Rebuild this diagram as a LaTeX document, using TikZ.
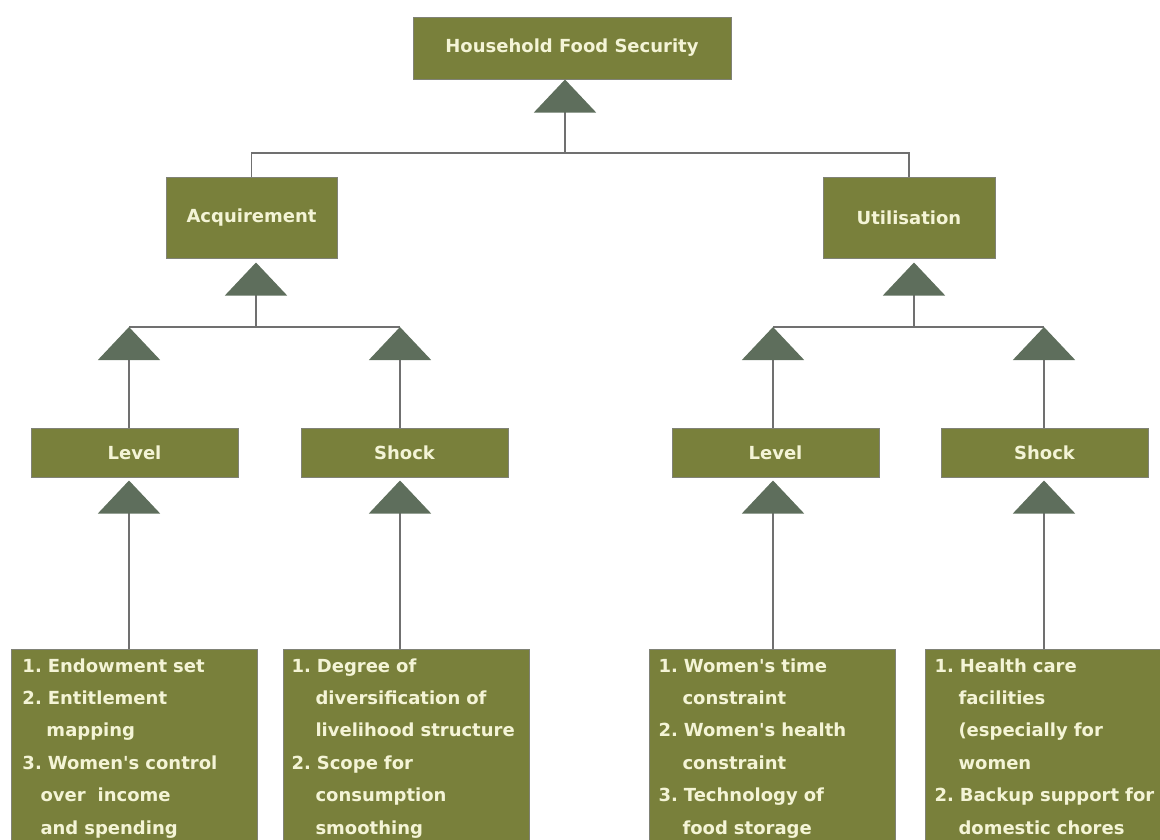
\documentclass[tikz,border=0pt]{standalone}
\usepackage{fontspec}
\setmainfont{DejaVu Sans}[Ligatures=TeXOff]
\usetikzlibrary{arrows.meta}
\frenchspacing

\definecolor{boxolive}{RGB}{121,128,59}
\definecolor{boxrim}{RGB}{128,130,118}
\definecolor{tipgreen}{RGB}{94,110,92}
\definecolor{linkgrey}{RGB}{112,112,112}
\definecolor{labelcream}{RGB}{244,244,214}

\begin{document}
\begin{tikzpicture}[x=1pt, y=-1pt,
  box/.style={draw=boxrim, line width=1pt, fill=boxolive, text=labelcream,
    font=\bfseries\fontsize{18}{32.4}\selectfont, inner sep=0pt},
  listbox/.style={box, anchor=north west, text width=246pt-2*#1, align=left,
    inner xsep=#1, inner ysep=0pt},
  listbox/.default=9pt,
  link/.style={draw=linkgrey, line width=1.6pt},
  uplink/.style={link, shorten >=#1,
    -{Triangle[width=62pt, length=33pt, color=tipgreen]}},
  uplink/.default=0pt]
\useasboundingbox (0,0) rectangle (1160,839);
\clip (0,0) rectangle (1160,839);
% top box
\node[box, minimum width=318pt, minimum height=62pt] (hfs) at (572,48) {Household Food Security};
% second row
\node[box, minimum width=171pt, minimum height=81pt] (acq) at (251.5,217.5) {Acquirement};
\node[box, minimum width=172pt, minimum height=81pt] (uti) at (909,217.5) {Utilisation};
% third row
\node[box, minimum width=207pt, minimum height=49pt] (lev1) at (134.5,452.5) {Level};
\node[box, minimum width=207pt, minimum height=49pt] (sho1) at (404.5,452.5) {Shock};
\node[box, minimum width=207pt, minimum height=49pt] (lev2) at (775.5,452.5) {Level};
\node[box, minimum width=207pt, minimum height=49pt] (sho2) at (1044.5,452.5) {Shock};
% lists at the bottom
\node[listbox=11pt] (list1) at (11,649) {\strut 1. Endowment set\\
  2. Entitlement\\ \hspace*{24pt}mapping\\ 3. Women's control\\
  \hspace*{18pt}over~ income\\ \hspace*{18pt}and spending\strut};
\node[listbox=8pt] (list2) at (283,649) {\strut 1. Degree of\\
  \hspace*{24pt}diversification of\\ \hspace*{24pt}livelihood structure\\
  2. Scope for\\ \hspace*{24pt}consumption\\ \hspace*{24pt}smoothing\strut};
\node[listbox] (list3) at (649,649) {\strut 1. Women's time\\
  \hspace*{24pt}constraint\\ 2. Women's health\\ \hspace*{24pt}constraint\\
  3. Technology of\\ \hspace*{24pt}food storage\strut};
\node[listbox] (list4) at (925,649) {\strut 1. Health care\\
  \hspace*{24pt}facilities\\ \hspace*{24pt}(especially for\\ \hspace*{24pt}women\\
  2. Backup support for\\ \hspace*{24pt}domestic chores\strut};
% top joint
\coordinate (topjoint) at (565,153);
\draw[link] (acq.north) |- (topjoint) -| (uti.north);
\draw[uplink] (topjoint) -- (topjoint |- hfs.south);
% acquirement side
\coordinate (acqbar) at (256,327);
\coordinate (acqL) at (129,327);
\coordinate (acqR) at (400,327);
\draw[link] (acqL) -- (acqR);
\draw[uplink=4pt] (acqbar) -- (acqbar |- acq.south);
\draw[uplink] (acqL |- lev1.north) -- (acqL);
\draw[uplink] (acqR |- sho1.north) -- (acqR);
\draw[uplink=3pt] (acqL |- list1.north) -- (acqL |- lev1.south);
\draw[uplink=3pt] (acqR |- list2.north) -- (acqR |- sho1.south);
% utilisation side
\coordinate (utibar) at (914,327);
\coordinate (utiL) at (773,327);
\coordinate (utiR) at (1044,327);
\draw[link] (utiL) -- (utiR);
\draw[uplink=4pt] (utibar) -- (utibar |- uti.south);
\draw[uplink] (utiL |- lev2.north) -- (utiL);
\draw[uplink] (utiR |- sho2.north) -- (utiR);
\draw[uplink=3pt] (utiL |- list3.north) -- (utiL |- lev2.south);
\draw[uplink=3pt] (utiR |- list4.north) -- (utiR |- sho2.south);
\end{tikzpicture}
\end{document}
